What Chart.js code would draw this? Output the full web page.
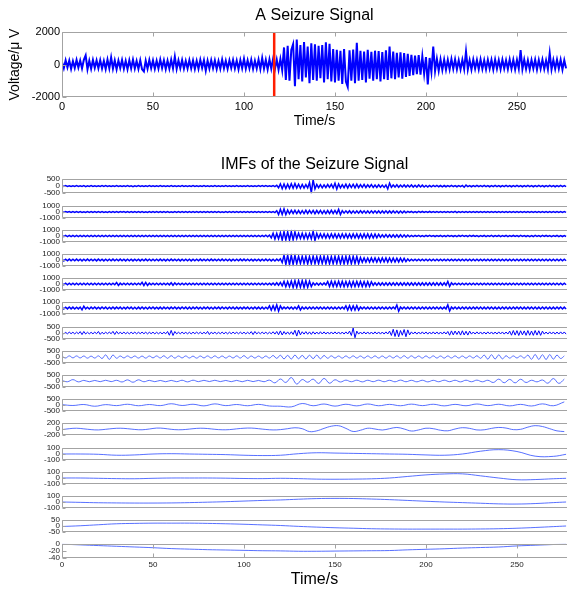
<!DOCTYPE html>
<html>
<head>
<meta charset="utf-8">
<script src="https://cdn.jsdelivr.net/npm/chart.js@4.4.0/dist/chart.umd.min.js"></script>
<style>
  body { margin: 0; background: #fff; width: 567px; height: 593px; overflow: hidden; position: relative; }
  canvas { position: absolute; left: 0; }
</style>
</head>
<body>
<script>
// ---- data ----
const xMax = 277.5;                 // seconds shown
const xTicks = [0, 50, 100, 150, 200, 250];
const onsetT = 116.6;               // red marker
const sigLim = 2000;
const sigTicks = [-2000, 0, 2000];

// raw signal, 1 sample per second (alternating peaks)
const seizureSignal = [
  150,-230,260,-180,240,-270,210,-220,280,-190,
  250,-240,290,560,-300,230,-260,280,-210,250,
  -230,270,-250,220,-280,300,-240,430,-260,250,
  -300,240,-220,280,-260,230,-290,260,-240,300,
  -250,220,-270,260,-300,-430,240,-260,280,-230,
  250,-270,230,-250,300,-220,260,-280,240,-260,
  290,-240,480,-270,250,-230,280,-260,220,-250,
  270,-240,250,-280,230,-260,290,-220,260,-370,
  240,-250,270,-230,250,-280,220,-260,300,-240,
  230,-270,260,-220,280,-250,240,-290,270,-230,
  350,-260,250,-240,290,-270,230,-250,300,-280,
  400,-260,280,-300,320,-250,350,-280,300,-320,
  330,-350,1050,-950,1150,-1000,900,1250,-1330,1530,
  -900,1200,-1050,1380,-800,1100,-1150,1300,-950,1250,
  -1000,1150,-850,1200,-1100,1370,-900,1280,-1050,950,
  -1100,900,-1000,850,-1200,950,-1050,-1370,880,-1000,
  920,-1150,1330,-1000,850,-950,800,-1100,900,-880,
  780,-1000,850,-900,820,-1050,760,-900,880,-950,
  1100,-850,800,-900,720,-800,750,-880,700,-760,
  650,-700,600,-650,550,-600,580,-620,500,-560,
  450,-1220,400,-450,1100,-400,350,-380,320,-330,
  300,-320,280,-300,330,-270,310,-290,260,-300,
  290,-280,800,-300,270,-310,300,-260,280,-290,
  310,-270,260,-300,290,-250,280,-310,300,-260,
  270,-290,300,-250,260,-280,310,-270,290,-300,
  280,-260,880,-290,300,-270,260,-300,280,-250,
  290,-310,270,-260,300,-280,250,-290,700,-300,
  280,-270,300,-260,290,-310,270,-240
];

const imf1 = [
  20,-25,30,-20,25,-30,20,-25,30,-20,
  25,-20,30,-35,20,-25,30,-20,25,-30,
  20,-25,30,-20,35,-25,20,-30,25,-20,
  30,-25,20,-30,25,-20,30,-25,20,-35,
  25,-20,30,-25,20,-30,25,-20,30,-25,
  20,-30,25,-20,35,-25,20,-30,25,-20,
  30,-25,20,-30,25,-20,30,-25,20,-30,
  25,-20,30,-25,20,-30,25,-20,35,-25,
  20,-30,25,-20,30,-25,20,-30,25,-20,
  30,-25,20,-30,25,-20,30,-25,20,-30,
  25,-20,30,-25,20,-30,25,-20,30,-25,
  30,-25,35,-30,25,-30,40,-35,60,-120,
  160,-180,150,-170,140,-160,170,-150,180,-140,
  130,-150,120,-140,110,-130,250,-460,440,-200,
  120,-110,100,-120,90,-100,110,-90,120,-130,
  200,-210,150,-120,100,-110,130,-140,120,-100,
  130,-120,140,-110,100,-90,120,-100,90,-80,
  100,-90,80,-100,90,-80,70,-90,80,-200,
  210,-90,80,-70,90,-80,70,-60,80,-70,
  70,-60,80,-70,60,-70,80,-60,70,-60,
  50,-60,40,-50,45,-40,50,-45,40,-50,
  40,-45,35,-40,45,-35,40,-45,35,-40,
  45,-80,70,-40,35,-45,40,-35,45,-40,
  35,-40,45,-35,40,-45,35,-40,45,-35,
  40,-45,35,-40,45,-35,40,-45,35,-40,
  45,-35,40,-45,35,-40,45,-35,40,-45,
  35,-40,45,-35,40,-45,35,-40,45,-35,
  40,-45,35,-40,45,-35,40,-45
];

const imf2 = [
  55,-65,60,-50,70,-60,55,-65,60,-55,
  65,-60,50,-70,60,-55,65,-60,55,-70,
  60,-55,70,-60,50,-65,60,-55,65,-60,
  55,-70,60,-50,65,-60,70,-55,60,-65,
  60,-55,65,-70,55,-60,50,-65,70,-60,
  65,-60,55,-65,60,-70,55,-60,65,-55,
  50,-65,60,-55,70,-60,55,-65,60,-70,
  60,-55,65,-60,55,-70,60,-55,65,-60,
  70,-60,55,-65,60,-55,65,-60,50,-65,
  60,-70,55,-60,65,-55,60,-65,70,-60,
  55,-60,65,-70,60,-55,65,-60,55,-65,
  60,-55,65,-60,70,-65,80,-90,200,-420,
  450,-400,480,-430,300,-280,260,-240,280,-250,
  240,-260,230,-250,270,-240,260,-230,250,-270,
  240,-230,260,-250,230,-260,240,-250,270,-230,
  260,-250,420,-400,200,-180,190,-170,200,-190,
  180,-190,170,-180,200,-170,180,-190,170,-180,
  190,-170,180,-160,170,-180,160,-170,180,-160,
  170,-160,180,-150,160,-170,150,-160,140,-120,
  90,-80,85,-90,80,-85,90,-80,85,-80,
  80,-75,85,-80,70,-75,60,-65,60,-55,
  65,-60,55,-65,60,-55,100,-90,60,-65,
  55,-60,65,-55,60,-65,55,-60,65,-60,
  60,-55,65,-60,55,-65,60,-55,65,-60,
  55,-65,60,-55,65,-60,55,-65,60,-55,
  65,-60,55,-65,60,-55,65,-60,55,-65,
  60,-55,65,-60,55,-65,60,-55,65,-60,
  55,-65,60,-55,65,-60,55,-65
];

const imf3 = [
  90,-110,100,-95,105,-100,110,-90,100,-105,
  95,-100,110,-105,90,-100,105,-95,110,-100,
  100,-90,105,-110,95,-100,90,-105,100,-95,
  110,-100,95,-105,100,-90,105,-100,95,-110,
  100,-105,90,-100,110,-95,100,-105,90,-100,
  105,-95,100,-110,90,-105,100,-95,110,-100,
  95,-100,105,-90,100,-110,95,-100,105,-95,
  100,-110,95,-100,105,-95,110,-100,90,-105,
  110,-95,100,-105,90,-100,105,-110,100,-95,
  95,-105,110,-100,95,-100,90,-105,100,-110,
  105,-100,95,-110,100,-95,105,-100,110,-90,
  100,-110,120,-130,150,-300,450,-480,420,-460,
  500,-650,680,-620,660,-640,690,-600,650,-420,
  430,-400,420,-440,410,-430,400,-450,750,-720,
  420,-330,340,-320,330,-350,320,-340,330,-310,
  340,-330,320,-340,350,-320,330,-340,320,-330,
  340,-320,330,-350,320,-330,340,-320,330,-340,
  320,-330,310,-300,280,-220,210,-200,220,-190,
  200,-210,190,-200,210,-190,200,-180,190,-170,
  150,-120,100,-90,85,-80,90,-85,80,-90,
  85,-80,90,-75,80,-85,75,-80,85,-90,
  80,-85,90,-80,75,-85,80,-90,85,-80,
  90,-75,80,-85,90,-80,85,-75,80,-90,
  75,-80,85,-90,80,-75,90,-85,80,-80,
  85,-90,75,-80,85,-90,80,-75,85,-80,
  80,-85,90,-75,80,-85,75,-90,80,-85,
  90,-80,75,-85,90,-80,85,-80,75,-90,
  80,-75,85,-90,80,-85,75,-80
];

const imf4 = [
  120,-140,130,-125,145,-130,120,-135,140,-125,
  130,-145,125,-130,140,-120,135,-130,125,-140,
  140,-125,130,-145,120,-135,130,-125,145,-130,
  125,-130,140,-120,135,-140,125,-130,120,-145,
  135,-120,130,-140,125,-130,145,-125,130,-135,
  130,-135,120,-130,140,-125,130,-145,125,-120,
  145,-130,125,-135,130,-140,120,-130,135,-125,
  120,-140,135,-125,130,-120,140,-135,125,-130,
  130,-125,145,-130,120,-135,130,-125,140,-130,
  125,-135,130,-140,135,-120,125,-130,145,-125,
  140,-130,120,-135,130,-145,135,-120,130,-140,
  130,-120,140,-130,120,-140,130,-150,140,-130,
  200,-400,750,-720,780,-740,760,-700,750,-600,
  580,-560,600,-570,590,-610,560,-580,620,-590,
  570,-600,580,-560,610,-580,570,-590,560,-600,
  590,-570,600,-580,560,-610,580,-570,600,-590,
  580,-560,570,-550,400,-350,330,-340,320,-330,
  340,-320,330,-340,320,-330,340,-320,330,-340,
  320,-330,310,-320,300,-310,290,-280,270,-250,
  180,-150,130,-120,125,-130,120,-125,130,-120,
  125,-130,120,-125,130,-120,125,-130,120,-125,
  130,-120,125,-130,120,-125,130,-120,125,-130,
  120,-125,130,-120,125,-130,120,-125,130,-120,
  125,-130,120,-125,130,-120,125,-130,120,-125,
  130,-120,125,-130,120,-125,130,-120,125,-130,
  120,-125,130,-120,125,-130,120,-125,130,-120,
  125,-130,120,-125,130,-120,125,-130,120,-125,
  130,-120,125,-130,120,-125,130,-120
];

const imf5 = [
  120,-130,125,-115,130,-125,120,-135,125,-120,
  130,-120,125,-130,115,-125,130,-120,135,-125,
  120,-135,130,-125,120,-130,125,-115,130,-125,
  250,-240,130,-120,125,-130,120,-125,130,-120,
  125,-130,120,-125,260,-240,250,-230,130,-125,
  120,-130,125,-120,135,-125,120,-130,125,-135,
  200,-190,180,-120,125,-130,120,-125,130,-120,
  125,-120,130,-135,120,-125,130,-120,125,-130,
  135,-125,120,-130,125,-120,130,-125,120,-135,
  125,-130,135,-120,130,-125,120,-135,125,-120,
  130,-120,125,-130,120,-135,125,-120,130,-125,
  125,-130,120,-125,130,-140,150,-160,200,-180,
  250,-300,420,-450,400,-430,460,-550,530,-560,
  540,-520,550,-560,530,-540,450,-420,180,-170,
  160,-170,150,-160,170,-150,400,-420,430,-410,
  420,-400,430,-410,420,-440,410,-420,400,-430,
  410,-420,400,-380,420,-400,390,-410,380,-400,
  360,-200,210,-190,200,-210,190,-200,210,-190,
  200,-210,190,-200,210,-190,200,-210,190,-200,
  210,-190,200,-210,190,-200,210,-190,200,-210,
  190,-200,210,-190,200,-210,190,-200,210,-190,
  200,-210,420,-400,180,-130,125,-130,120,-125,
  130,-120,125,-135,120,-130,125,-120,135,-125,
  120,-130,125,-120,130,-125,135,-120,125,-130,
  125,-120,130,-125,120,-135,125,-130,120,-125,
  135,-125,120,-130,125,-120,130,-125,135,-120,
  120,-130,125,-135,120,-125,130,-120,125,-130,
  130,-125,120,-130,125,-120,135,-125
];

const imf6 = [
  140,-150,130,-140,155,-135,145,-150,135,-140,
  150,-300,290,-140,130,-150,140,-130,150,-140,
  135,-145,150,-130,140,-155,130,-145,150,-135,
  145,-135,140,-150,130,-140,155,-130,140,-150,
  130,-150,145,-135,150,-140,135,-150,140,-130,
  155,-140,130,-145,140,-150,145,-135,130,-140,
  140,-130,150,-140,135,-145,150,-130,145,-150,
  135,-150,140,-130,155,-140,130,-150,140,-135,
  150,-140,135,-150,140,-130,145,-140,150,-135,
  130,-145,150,-135,140,-150,135,-145,130,-140,
  145,-135,140,-150,130,-140,150,-135,145,-150,
  140,-150,130,-140,350,-330,360,-340,500,-480,
  340,-150,140,-130,150,-140,160,-170,150,-160,
  330,-320,160,-150,140,-160,150,-140,160,-150,
  150,-140,160,-150,140,-150,160,-140,150,-160,
  140,-150,160,-140,150,-160,350,-340,360,-330,
  350,-340,360,-340,150,-140,160,-150,140,-150,
  160,-150,140,-160,150,-140,160,-150,140,-160,
  150,-140,160,-150,480,-500,150,-140,160,-150,
  140,-160,150,-140,160,-150,140,-160,150,-140,
  160,-150,140,-160,150,-140,160,-150,140,-160,
  140,-150,500,-480,150,-140,160,-150,140,-150,
  160,-140,150,-160,140,-150,160,-140,150,-160,
  150,-160,140,-150,160,-140,150,-160,140,-150,
  140,-150,160,-140,150,-160,140,-150,160,-140,
  160,-140,150,-160,140,-150,160,-140,150,-160,
  150,-160,140,-150,160,-140,150,-160,140,-150,
  140,-150,160,-140,150,-160,140,-150
];

const imf7 = [
  60,-70,50,-65,70,-55,60,-75,65,-60,
  110,-125,120,-80,60,-70,55,-65,70,-60,
  120,-110,60,-70,65,-55,70,-60,130,-120,
  125,-70,60,-65,70,-60,55,-70,65,-60,
  70,-65,60,-55,70,-60,65,-70,60,-55,
  65,-70,60,-65,55,-70,60,-65,120,-180,
  210,-200,120,-70,60,-65,70,-60,55,-65,
  60,-70,65,-55,70,-60,65,-70,60,-65,
  125,-120,70,-60,65,-70,55,-60,70,-65,
  60,-70,65,-60,70,-55,60,-65,70,-60,
  65,-70,60,-65,110,-125,120,-70,60,-65,
  70,-60,65,-70,60,-65,100,-90,120,-140,
  170,-160,120,-100,90,-110,100,-120,220,-250,
  240,-150,100,-90,110,-100,90,-110,100,-90,
  80,-90,100,-80,90,-85,80,-90,85,-80,
  90,-80,85,-90,80,-85,90,-80,150,-200,
  400,-380,150,-90,80,-85,90,-80,85,-90,
  80,-85,90,-80,85,-90,80,-85,90,-80,
  150,-200,300,-280,250,-300,200,-180,280,-300,
  250,-150,90,-80,85,-90,80,-85,90,-80,
  85,-90,80,-85,90,-80,85,-90,80,-85,
  90,-80,120,-180,170,-150,160,-120,150,-170,
  180,-160,140,-170,150,-90,80,-85,90,-80,
  85,-90,80,-85,90,-80,85,-90,80,-85,
  90,-80,85,-90,80,-85,150,-180,200,-170,
  190,-200,180,-150,170,-190,200,-180,160,-190,
  200,-170,180,-190,150,-90,80,-85,90,-80,
  85,-90,80,-85,90,-80,85,-90
];

// IMF8: one extreme every 2 s
const imf8 = [
  60,-80,90,-70,85,-75,80,-90,70,-85,
  90,-120,170,-190,160,-100,80,-75,85,-70,
  80,-85,75,-90,80,-70,85,-80,100,-110,
  105,-90,80,-75,85,-80,70,-90,80,-75,
  85,-80,90,-75,80,-85,75,-80,90,-85,
  110,-105,80,-85,75,-90,80,-85,120,-110,
  140,-150,130,-160,150,-140,130,-150,140,-130,
  150,-140,120,-100,90,-85,80,-90,85,-80,
  90,-85,80,-90,85,-80,90,-85,80,-90,
  85,-80,90,-85,100,-95,90,-85,80,-90,
  85,-80,90,-85,80,-90,85,-80,90,-85,
  80,-90,85,-80,100,-110,150,-170,180,-160,
  170,-150,100,-90,85,-80,90,-85,150,-180,
  200,-190,180,-200,190,-170,150,-120,90
];

// IMF9: one extreme every 3 s
const imf9 = [
  40,-60,110,-70,50,-60,45,-55,60,-50,
  55,-80,90,-100,95,-60,50,-55,45,-60,
  50,-55,60,-70,65,-50,55,-45,60,-50,
  45,-55,50,-60,55,-50,45,-60,70,-150,
  160,-120,280,-250,120,-100,150,-200,210,-180,
  100,-80,70,-60,65,-70,60,-55,65,-60,
  55,-65,70,-60,55,-65,60,-70,55,-60,
  65,-55,60,-70,65,-60,70,-65,60,-120,
  150,-140,130,-150,140,-120,60,-70,80,-180,
  200,-190,150
];

// IMF10: one extreme every 6 s
const imf10 = [
  30,-40,40,-100,30,-50,60,-60,40,-50,
  100,-40,60,-70,90,-50,40,-60,50,-80,
  -100,-150,120,-60,80,-90,60,-70,80,-60,
  50,-60,70,-50,60,-70,50,-60,80,-50,
  60,-70,50,-80,90,-60,250
];

// IMF11: sampled every 4 s
const imf11 = [
  -20,10,25,5,-20,-30,-10,15,25,10,
  -15,-25,0,30,20,-10,-25,-15,10,25,
  15,-10,-25,-20,5,25,30,10,-15,-30,
  -20,10,40,10,-83,-60,20,90,105,20,
  -80,-40,25,0,-33,10,50,0,-65,-30,
  25,10,-40,-58,0,42,20,-30,-25,20,
  50,30,-20,-10,60,108,80,10,-60,-83
];

// slow IMFs, sampled at these times
const slowTimes = [0,10,20,30,40,50,60,70,80,90,100,110,120,130,140,150,160,170,180,190,200,210,220,230,240,250,260,270,277];
const imf12 = [0,0,-5,-20,-15,0,5,0,-5,-10, -20,-25,-20,5,20,15,10,5,0,-5, -15,-20,0,45,70,40,-35,-38,-5];
const imf13 = [0,0,-5,-10,-12,-5,0,0,0,-3, -8,-10,-5,-10,-18,-20,-18,-13,0,25, 50,65,67,35,0,-28,-25,-12,-5];
const imf14 = [0,-6,-12,-15,-17,-17,-15,-10,-3,5, 15,25,33,45,55,58,56,48,38,25, 12,0,-10,-20,-30,-33,-25,-10,0];
const imf15 = [-4,2,10,18,21,23,23,23,21,18, 14,9,4,-3,-9,-14,-18,-22,-24,-25, -25,-25,-25,-24,-22,-18,-12,-5,0];
const imf16 = [-1,-3,-5,-7,-9,-11,-13.5,-15,-16.5,-17.5, -18.5,-19.5,-20,-21,-21,-20.5,-20,-19.5,-19,-17, -15.5,-14,-12,-10.5,-9,-6,-4,-2,-0.5];

// y limits / ticks of each IMF panel
const imfRanges = [
  [-500, 500], [-1000, 1000], [-1000, 1000], [-1000, 1000], [-1000, 1000], [-1000, 1000],
  [-500, 500], [-500, 500], [-500, 500], [-500, 500], [-200, 200],
  [-100, 100], [-100, 100], [-100, 100], [-50, 50], [-40, 0]
];
const imfTicks = [
  [-500, 0, 500], [-1000, 0, 1000], [-1000, 0, 1000], [-1000, 0, 1000], [-1000, 0, 1000], [-1000, 0, 1000],
  [-500, 0, 500], [-500, 0, 500], [-500, 0, 500], [-500, 0, 500], [-200, 0, 200],
  [-100, 0, 100], [-100, 0, 100], [-100, 0, 100], [-50, 0, 50], [-40, -20, 0]
];

// ---- helpers ----
Chart.defaults.font.family = '"Liberation Sans", Arial, Helvetica, sans-serif';
Chart.defaults.color = '#000';

const frameColor = '#a3a3a3';
const blue = 'rgb(0, 0, 255)';
const lightBlue = 'rgb(45, 75, 255)';

function stepPoints(vals, step) {
  return vals.map((v, i) => ({ x: i * step, y: v }));
}
function timePoints(times, vals) {
  return vals.map((v, i) => ({ x: times[i], y: v }));
}
function denseSet(vals, width) {
  return {
    type: 'line', data: stepPoints(vals, 1),
    borderColor: blue, borderWidth: width, pointRadius: 0, tension: 0,
    borderJoinStyle: 'miter'
  };
}
function lineSet(pts, smooth) {
  return {
    type: 'line', data: pts,
    borderColor: smooth ? lightBlue : blue,
    borderWidth: smooth ? 0.8 : 1,
    pointRadius: 0, tension: smooth ? 0.4 : 0
  };
}
const plain = v => String(v);

const imfSets = [
  denseSet(imf1, 1.5), denseSet(imf2, 1.5), denseSet(imf3, 1.5),
  denseSet(imf4, 1.5), denseSet(imf5, 1.5), denseSet(imf6, 1.5),
  lineSet(stepPoints(imf7, 1), false),
  lineSet(stepPoints(imf8, 2), true),
  lineSet(stepPoints(imf9, 3), true),
  lineSet(stepPoints(imf10, 6), true),
  lineSet(stepPoints(imf11, 4), true),
  lineSet(timePoints(slowTimes, imf12), true),
  lineSet(timePoints(slowTimes, imf13), true),
  lineSet(timePoints(slowTimes, imf14), true),
  lineSet(timePoints(slowTimes, imf15), true),
  lineSet(timePoints(slowTimes, imf16), true)
];

// matlab style box + inward ticks
const framePlugin = {
  id: 'frame',
  afterDatasetsDraw(chart, args, opts) {
    const { ctx, chartArea: a } = chart;
    const t = Math.round(a.top) + 0.5, b = Math.round(a.bottom) - 0.5, l = Math.round(a.left) + 0.5;
    ctx.save();
    ctx.strokeStyle = frameColor;
    ctx.lineWidth = 1;
    ctx.beginPath();
    ctx.moveTo(a.right + 2, t); ctx.lineTo(l, t); ctx.lineTo(l, b); ctx.lineTo(a.right + 2, b);
    if (opts.xTicks) {
      const xs = chart.scales.x;
      opts.xTicks.forEach(v => {
        const px = Math.round(xs.getPixelForValue(v)) + 0.5;
        ctx.moveTo(px, t); ctx.lineTo(px, t + opts.len);
        ctx.moveTo(px, b); ctx.lineTo(px, b - opts.len);
      });
    }
    if (opts.yTicks) {
      const ys = chart.scales.y;
      opts.yTicks.forEach(v => {
        const py = Math.round(ys.getPixelForValue(v)) + 0.5;
        ctx.moveTo(l, py); ctx.lineTo(l + opts.len, py);
      });
    }
    ctx.stroke();
    ctx.restore();
  }
};

function makeCanvas(top, h) {
  const c = document.createElement('canvas');
  c.width = 567; c.height = h;
  c.style.top = top + 'px';
  document.body.appendChild(c);
  return c;
}

// ---- top plot: the raw signal ----
const sigCanvas = makeCanvas(0, 130);
new Chart(sigCanvas, {
  type: 'line',
  data: {
    datasets: [
      {
        type: 'line',
        data: [{ x: onsetT, y: -sigLim }, { x: onsetT, y: sigLim }],
        borderColor: 'rgb(255, 30, 0)', borderWidth: 2.5, pointRadius: 0
      },
      denseSet(seizureSignal, 2)
    ]
  },
  options: {
    responsive: false, devicePixelRatio: 1, animation: false, events: [],
    layout: { padding: 0 },
    plugins: {
      legend: { display: false }, tooltip: { enabled: false },
      title: {
        display: true, text: 'A Seizure Signal', fullSize: false,
        font: { size: 16, weight: 'normal' }, color: '#000',
        padding: { top: 6.4, bottom: 6.4 }
      },
      frame: { xTicks: xTicks, yTicks: sigTicks, len: 4 }
    },
    scales: {
      x: {
        type: 'linear', min: 0, max: xMax,
        grid: { display: false, drawTicks: false }, border: { display: false },
        afterBuildTicks: s => { s.ticks = xTicks.map(v => ({ value: v })); },
        afterFit: s => { s.height = 33; },
        ticks: { font: { size: 11 }, padding: 3, autoSkip: false, maxRotation: 0, color: '#000', callback: plain },
        title: { display: true, text: 'Time/s', font: { size: 14 }, padding: { top: 0, bottom: 0 }, color: '#000' }
      },
      y: {
        min: -sigLim, max: sigLim,
        grid: { display: false, drawTicks: false }, border: { display: false },
        afterBuildTicks: s => { s.ticks = sigTicks.map(v => ({ value: v })); },
        afterFit: s => { s.width = 62; },
        ticks: { font: { size: 11 }, padding: 2, autoSkip: false, color: '#000', callback: plain },
        title: { display: true, text: 'Voltage/\u03bc V', font: { size: 14 }, padding: { top: 7, bottom: 0 }, color: '#000' }
      }
    }
  },
  plugins: [framePlugin]
});

// ---- IMF panels ----
const panelTop0 = 179.3, panelStep = 24.2, panelH = 16;

imfSets.forEach((ds, k) => {
  const top = Math.round(panelTop0 + k * panelStep);
  const first = k === 0, last = k === imfSets.length - 1;
  let cTop, cH, pad;
  if (first) { cTop = 150; cH = (top - 150) + panelH + 5; pad = { top: 0, bottom: 5, left: 0, right: 0 }; }
  else if (last) { cTop = top - 5; cH = 593 - cTop; pad = { top: 5, bottom: 0, left: 0, right: 0 }; }
  else { cTop = top - 5; cH = panelH + 10; pad = { top: 5, bottom: 5, left: 0, right: 0 }; }
  const canvas = makeCanvas(cTop, cH);
  const ticks = imfTicks[k];
  new Chart(canvas, {
    type: 'line',
    data: { datasets: [ds] },
    options: {
      responsive: false, devicePixelRatio: 1, animation: false, events: [],
      layout: { padding: pad },
      plugins: {
        legend: { display: false }, tooltip: { enabled: false },
        title: {
          display: first, text: 'IMFs of the Seizure Signal', fullSize: false,
          font: { size: 16, weight: 'normal' }, color: '#000',
          padding: { top: 4.8, bottom: (top - 150) - 19.2 - 4.8 }
        },
        frame: { xTicks: last ? xTicks : null, yTicks: ticks, len: last ? 4 : 3 }
      },
      scales: {
        x: {
          type: 'linear', min: 0, max: xMax, display: last,
          grid: { display: false, drawTicks: false }, border: { display: false },
          afterBuildTicks: sc => { sc.ticks = xTicks.map(v => ({ value: v })); },
          afterFit: sc => { if (last) sc.height = 593 - (top + panelH); },
          ticks: { font: { size: 8 }, padding: 2, autoSkip: false, maxRotation: 0, color: '#222', callback: plain },
          title: { display: true, text: 'Time/s', font: { size: 16 }, padding: { top: 0, bottom: 3.4 }, color: '#000' }
        },
        y: {
          min: imfRanges[k][0], max: imfRanges[k][1],
          grid: { display: false, drawTicks: false }, border: { display: false },
          afterBuildTicks: sc => { sc.ticks = ticks.map(v => ({ value: v })); },
          afterFit: sc => { sc.width = 62; },
          ticks: { font: { size: 8 }, padding: 2, autoSkip: false, color: '#222', callback: plain }
        }
      }
    },
    plugins: [framePlugin]
  });
});
</script>
</body>
</html>
